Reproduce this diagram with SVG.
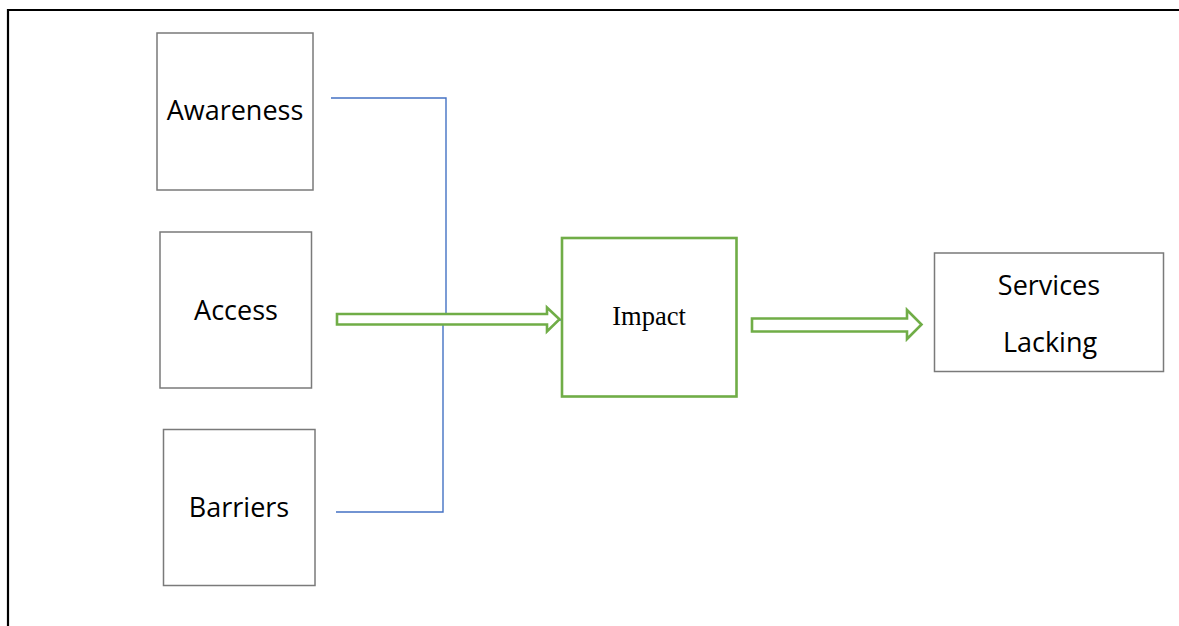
<svg xmlns="http://www.w3.org/2000/svg" width="1179" height="626" viewBox="0 0 1179 626">
<style>
.box{fill:#fff;stroke:#7a7a7a;stroke-width:1.5}
.lbl{font-family:"Open Sans","Liberation Sans",sans-serif;font-size:27px;fill:#000;text-anchor:middle}
.imp{font-family:"Liberation Serif","Times New Roman",serif;font-size:26.5px;fill:#000;text-anchor:middle}
.blue{fill:none;stroke:#4472C4;stroke-width:1.4}
.garrow{fill:#fff;stroke:#70AD47;stroke-width:2.6;stroke-linejoin:miter}
</style>
<rect width="1179" height="626" fill="#fff"/>
<g id="frame">
<path d="M1179 10 H8 V626" fill="none" stroke="#000" stroke-width="2.2"/>
</g>
<g id="connectors">
<polyline class="blue" points="331,98 446,98 446,319"/>
<polyline class="blue" points="336,512 443,512 443,319"/>
<line class="blue" x1="443" y1="320" x2="561" y2="320"/>
<polygon class="garrow" points="337,314 547,314 547,307.5 559.5,319.3 547,331.5 547,324.5 337,324.5"/>
<polygon class="garrow" points="752,318.5 907,318.5 907,310 921.5,324.5 907,339 907,331.5 752,331.5"/>
</g>
<g id="awareness">
<rect class="box" x="157" y="33" width="156" height="157"/>
<text class="lbl" x="235" y="120">Awareness</text>
</g>
<g id="access">
<rect class="box" x="160" y="232" width="151.5" height="156"/>
<text class="lbl" x="236" y="320">Access</text>
</g>
<g id="barriers">
<rect class="box" x="163.5" y="429.5" width="151.5" height="156"/>
<text class="lbl" x="239" y="517">Barriers</text>
</g>
<g id="impact">
<rect x="562" y="238" width="174.5" height="158.5" fill="#fff" stroke="#70AD47" stroke-width="2.6"/>
<text class="imp" x="649" y="325">Impact</text>
</g>
<g id="services">
<rect class="box" x="934.5" y="253" width="229" height="118.5"/>
<text class="lbl" x="1049" y="295">Services</text>
<text class="lbl" x="1050" y="352">Lacking</text>
</g>
</svg>
